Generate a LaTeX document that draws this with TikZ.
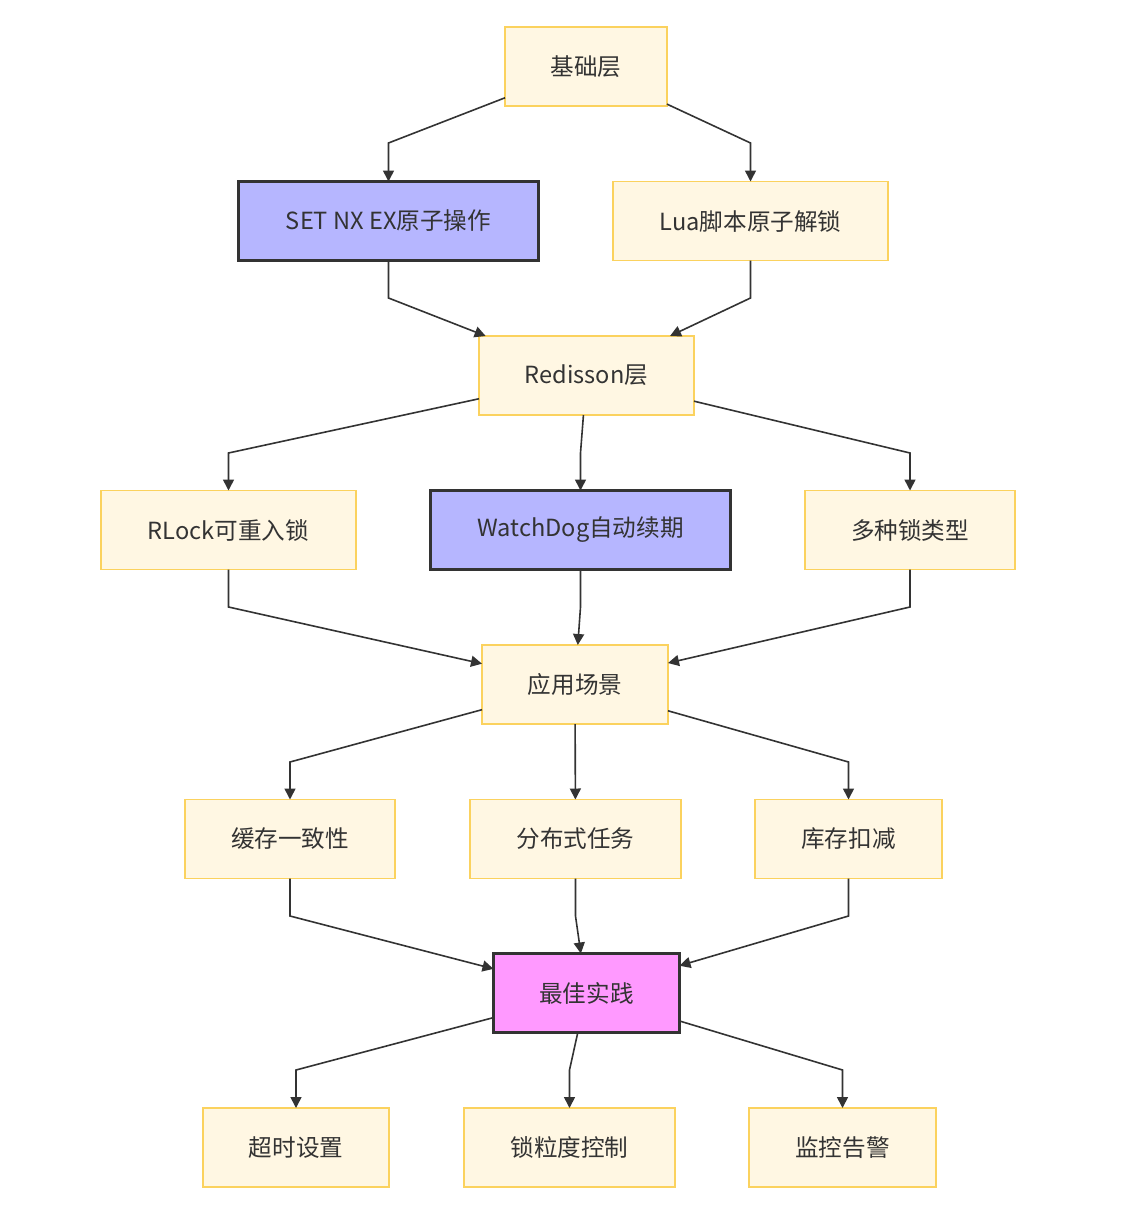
\documentclass[tikz,border=0pt]{standalone}
\usepackage{fontspec}
\setmainfont{Noto Sans CJK SC}
\usetikzlibrary{arrows.meta,calc}
\definecolor{boxfill}{HTML}{FFF7E3}
\definecolor{boxline}{HTML}{FBD25E}
\definecolor{txt}{HTML}{333333}
\definecolor{purp}{HTML}{B6B6FF}
\definecolor{pinkf}{HTML}{FF99FF}
\begin{document}
\begin{tikzpicture}[x=1pt,y=-1pt,
  box/.style={draw=boxline,fill=boxfill,line width=1.4pt,inner sep=0pt,outer sep=0pt,
    text=txt,font=\fontsize{23.6}{28}\selectfont,minimum height=79pt},
  hot/.style={box,draw=txt,line width=2.8pt},
  arr/.style={draw=txt,line width=1.6pt,-{Triangle[length=11pt,width=11pt]}}]
\useasboundingbox (0,0) rectangle (1145,1220);
\node[box,minimum width=162pt] (base) at (586,66.5) {基础层};
\node[hot,fill=purp,minimum width=300pt] (set) at (388.5,221) {SET NX EX原子操作};
\node[box,minimum width=275pt] (lua) at (750.5,221) {Lua脚本原子解锁};
\node[box,minimum width=215pt] (red) at (586.5,375.5) {Redisson层};
\node[box,minimum width=255pt] (rlock) at (228.5,530) {RLock可重入锁};
\node[hot,fill=purp,minimum width=300pt] (wd) at (580.5,530) {WatchDog自动续期};
\node[box,minimum width=210pt] (multi) at (910,530) {多种锁类型};
\node[box,minimum width=186pt] (app) at (575,684.5) {应用场景};
\node[box,minimum width=210pt] (cache) at (290,839) {缓存一致性};
\node[box,minimum width=211pt] (task) at (575.5,839) {分布式任务};
\node[box,minimum width=187pt] (stock) at (848.5,839) {库存扣减};
\node[hot,fill=pinkf,minimum width=186pt] (best) at (586.5,993) {最佳实践};
\node[box,minimum width=186pt] (tmo) at (296,1147.5) {超时设置};
\node[box,minimum width=211pt] (gran) at (569.5,1147.5) {锁粒度控制};
\node[box,minimum width=187pt] (mon) at (842.5,1147.5) {监控告警};
\coordinate (r1) at (0,143);
\coordinate (r2) at (0,298);
\coordinate (r3) at (0,453);
\coordinate (r4) at (0,607);
\coordinate (r5) at (0,762);
\coordinate (r6) at (0,916);
\coordinate (r7) at (0,1070);
\draw[arr] (base) -- (set |- r1) -- (set);
\draw[arr] (base) -- (lua |- r1) -- (lua);
\draw[arr] (set) -- (set |- r2) -- (red);
\draw[arr] (lua) -- (lua |- r2) -- (red);
\draw[arr] (red) -- (rlock |- r3) -- (rlock);
\draw[arr] (red) -- (wd |- r3) -- (wd);
\draw[arr] (red) -- (multi |- r3) -- (multi);
\draw[arr] (rlock) -- (rlock |- r4) -- (app);
\draw[arr] (wd) -- (wd |- r4) -- (app);
\draw[arr] (multi) -- (multi |- r4) -- (app);
\draw[arr] (app) -- (cache |- r5) -- (cache);
\draw[arr] (app) -- (task);
\draw[arr] (app) -- (stock |- r5) -- (stock);
\draw[arr] (cache) -- (cache |- r6) -- (best);
\draw[arr] (task) -- (task |- r6) -- (best);
\draw[arr] (stock) -- (stock |- r6) -- (best);
\draw[arr] (best) -- (tmo |- r7) -- (tmo);
\draw[arr] (best) -- (gran |- r7) -- (gran);
\draw[arr] (best) -- (mon |- r7) -- (mon);
\end{tikzpicture}
\end{document}
